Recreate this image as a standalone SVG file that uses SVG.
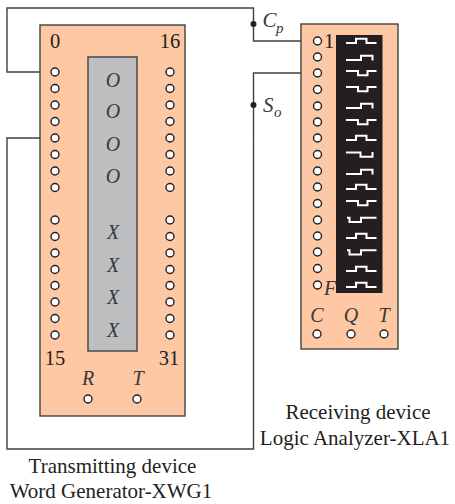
<svg xmlns="http://www.w3.org/2000/svg" xmlns:xlink="http://www.w3.org/1999/xlink" width="455" height="504" viewBox="0 0 455 504">
<style>
text{font-family:"Liberation Serif","Times New Roman",serif;fill:#231f20;text-anchor:middle}
.n{font-size:20.5px}
.i{font-size:20px;font-style:italic;fill:#3a3839}
.c{font-size:21px}
.s{font-style:italic;fill:#3a3839;text-anchor:start}
.panel{fill:#fdc8a3;stroke:#414042;stroke-width:1.4}
.pin{fill:#fff;stroke:#231f20;stroke-width:1.4}
.wire{fill:none;stroke:#414042;stroke-width:1.4}
.wave{fill:none;stroke:#fff;stroke-width:2}
</style>
<defs>
<circle id="p" class="pin" r="4"/>
<path id="a" class="wave" d="M346 2H356V-2.300H366.500V2H376.500"/>
<path id="b" class="wave" d="M346 2H361V-2.300H372.500V2.500"/>
<path id="d" class="wave" d="M346 -2H358V2.300H367.500V-2H376.500"/>
<path id="e" class="wave" d="M346 -2H360.500V2.300H372.500V-2.500"/>
<path id="f" class="wave" d="M347 -2.300H349.500V2H361V-2.300H376.500"/>
</defs>
<g id="connectors">
<path class="wire" d="M253.500 24V8H7V72H51"/>
<path class="wire" d="M253.500 24V41H313.500"/>
<path class="wire" d="M51 138H7V449H253.500V73H313.500"/>
<circle cx="253.500" cy="24" r="3" fill="#231f20"/>
<circle cx="253.500" cy="105" r="3" fill="#231f20"/>
</g>
<g id="word-generator">
<rect class="panel" x="40" y="25" width="145" height="391"/>
<rect x="88" y="57" width="49" height="294" fill="#bcbec0" stroke="#414042" stroke-width="1.400"/>
<use xlink:href="#p" x="55" y="72"/><use xlink:href="#p" x="55" y="88.500"/><use xlink:href="#p" x="55" y="105"/><use xlink:href="#p" x="55" y="121.500"/><use xlink:href="#p" x="55" y="138"/><use xlink:href="#p" x="55" y="154.500"/><use xlink:href="#p" x="55" y="171"/><use xlink:href="#p" x="55" y="187.500"/>
<use xlink:href="#p" x="55" y="220"/><use xlink:href="#p" x="55" y="236.500"/><use xlink:href="#p" x="55" y="253"/><use xlink:href="#p" x="55" y="269.500"/><use xlink:href="#p" x="55" y="285.500"/><use xlink:href="#p" x="55" y="302"/><use xlink:href="#p" x="55" y="318.500"/><use xlink:href="#p" x="55" y="335"/>
<use xlink:href="#p" x="170" y="72"/><use xlink:href="#p" x="170" y="88.500"/><use xlink:href="#p" x="170" y="105"/><use xlink:href="#p" x="170" y="121.500"/><use xlink:href="#p" x="170" y="138"/><use xlink:href="#p" x="170" y="154.500"/><use xlink:href="#p" x="170" y="171"/><use xlink:href="#p" x="170" y="187.500"/>
<use xlink:href="#p" x="170" y="220"/><use xlink:href="#p" x="170" y="236.500"/><use xlink:href="#p" x="170" y="253"/><use xlink:href="#p" x="170" y="269.500"/><use xlink:href="#p" x="170" y="285.500"/><use xlink:href="#p" x="170" y="302"/><use xlink:href="#p" x="170" y="318.500"/><use xlink:href="#p" x="170" y="335"/>
<use xlink:href="#p" x="88" y="399"/><use xlink:href="#p" x="137" y="399"/>
<text class="n" x="55" y="48">0</text><text class="n" x="170" y="48">16</text>
<text class="n" x="55" y="365">15</text><text class="n" x="169" y="365">31</text>
<text class="i" x="113" y="87">O</text><text class="i" x="113" y="118">O</text><text class="i" x="113" y="151">O</text><text class="i" x="113" y="183">O</text>
<text class="i" x="113" y="239">X</text><text class="i" x="113" y="272">X</text><text class="i" x="113" y="304">X</text><text class="i" x="113" y="337">X</text>
<text class="i" x="88" y="385">R</text><text class="i" x="138" y="385">T</text>
<text class="c" x="112.500" y="473">Transmitting device</text>
<text class="c" x="111" y="498">Word Generator-XWG1</text>
</g>
<g id="logic-analyzer">
<rect class="panel" x="301" y="24" width="97" height="325"/>
<rect x="336" y="35" width="46.500" height="258" fill="#231f20"/>
<use xlink:href="#a" y="41"/><use xlink:href="#b" y="58"/><use xlink:href="#d" y="73"/><use xlink:href="#d" y="89"/><use xlink:href="#b" y="106"/><use xlink:href="#d" y="122"/><use xlink:href="#a" y="138"/><use xlink:href="#e" y="154.500"/><use xlink:href="#b" y="172"/>
<use xlink:href="#a" y="187"/><use xlink:href="#d" y="203"/><use xlink:href="#f" y="220"/><use xlink:href="#a" y="236"/><use xlink:href="#f" y="252.500"/><use xlink:href="#a" y="269"/><use xlink:href="#a" y="285"/>
<use xlink:href="#p" x="317.500" y="41"/><use xlink:href="#p" x="317.500" y="57"/><use xlink:href="#p" x="317.500" y="73"/><use xlink:href="#p" x="317.500" y="89.500"/><use xlink:href="#p" x="317.500" y="106"/><use xlink:href="#p" x="317.500" y="122"/><use xlink:href="#p" x="317.500" y="138"/><use xlink:href="#p" x="317.500" y="154.500"/><use xlink:href="#p" x="317.500" y="171"/>
<use xlink:href="#p" x="317.500" y="187"/><use xlink:href="#p" x="317.500" y="203.500"/><use xlink:href="#p" x="317.500" y="220"/><use xlink:href="#p" x="317.500" y="236"/><use xlink:href="#p" x="317.500" y="252"/><use xlink:href="#p" x="317.500" y="268.500"/><use xlink:href="#p" x="317.500" y="285"/>
<use xlink:href="#p" x="317" y="334"/><use xlink:href="#p" x="351" y="334"/><use xlink:href="#p" x="384" y="334"/>
<text class="n" x="329" y="48">1</text>
<text class="i" x="330" y="295">F</text>
<text class="i" x="317" y="322">C</text><text class="i" x="351" y="322">Q</text><text class="i" x="384" y="322">T</text>
<text class="c" x="358" y="419">Receiving device</text>
<text class="c" x="355" y="445">Logic Analyzer-XLA1</text>
</g>
<g id="labels">
<text class="s" x="262.500" y="27" font-size="21">C</text>
<text class="s" x="276" y="33" font-size="15">p</text>
<text class="s" x="263" y="112" font-size="21">S</text>
<text class="s" x="274" y="117" font-size="15">o</text>
</g>
</svg>
